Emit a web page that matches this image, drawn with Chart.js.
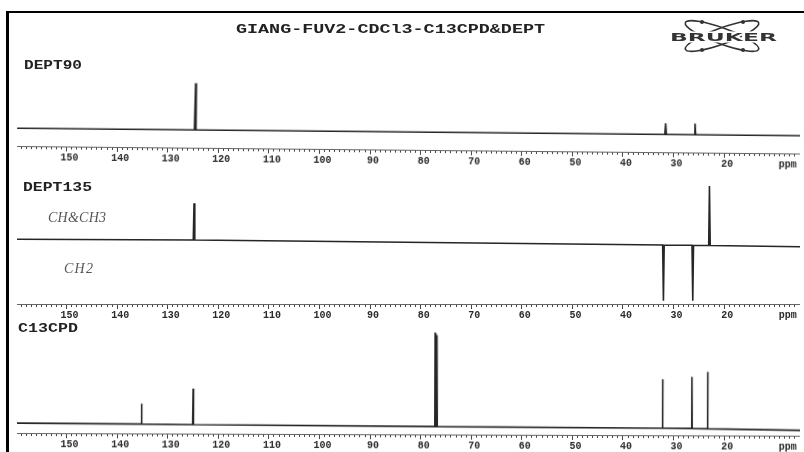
<!DOCTYPE html>
<html>
<head>
<meta charset="utf-8">
<script src="https://cdn.jsdelivr.net/npm/chart.js@4.4.1/dist/chart.umd.min.js"></script>
<style>
  html, body { margin: 0; padding: 0; background: #fff; }
  #page { position: relative; width: 804px; height: 452px; overflow: hidden; background: #fff; }
  canvas { position: absolute; left: 17px; }
  #dept90 { top: 78px; transform: rotate(0.55deg); transform-origin: 0 68px; }
  #dept135 { top: 182px; }
  #cpd { top: 328px; transform: rotate(0.2deg); transform-origin: 0 104px; }
  #overlay { position: absolute; left: 0; top: 0; pointer-events: none; }
  .frame { position: absolute; background: #000; }
</style>
</head>
<body>
<div id="page">
  <div class="frame" style="left:6px;top:11px;width:3px;height:441px"></div>
  <div class="frame" style="left:6px;top:11px;width:798px;height:2px"></div>
  <canvas id="dept90" width="783" height="85"></canvas>
  <canvas id="dept135" width="783" height="139"></canvas>
  <canvas id="cpd" width="783" height="122"></canvas>
  <svg id="overlay" width="804" height="452">
    <g font-family="Liberation Mono" font-weight="bold" fill="#222">
      <text x="236" y="33" font-size="13.5" textLength="309" lengthAdjust="spacingAndGlyphs">GIANG-FUV2-CDCl3-C13CPD&amp;DEPT</text>
      <text x="24" y="68.5" font-size="12.5" textLength="58" lengthAdjust="spacingAndGlyphs">DEPT90</text>
      <text x="23" y="191" font-size="12.5" textLength="69" lengthAdjust="spacingAndGlyphs">DEPT135</text>
      <text x="18" y="331.5" font-size="12.5" textLength="60" lengthAdjust="spacingAndGlyphs">C13CPD</text>
    </g>
    <g font-family="Liberation Serif" font-style="italic" fill="#555" font-size="14">
      <text x="48" y="221.5" textLength="58" lengthAdjust="spacing">CH&amp;CH3</text>
      <text x="64" y="273" textLength="29" lengthAdjust="spacing">CH2</text>
    </g>
    <g fill="none" stroke="#333" stroke-width="1.6">
      <ellipse cx="722" cy="36" rx="39" ry="8" transform="rotate(20 722 36)"></ellipse>
      <ellipse cx="722" cy="36" rx="39" ry="8" transform="rotate(-20 722 36)"></ellipse>
    </g>
    <g fill="#333">
      <circle cx="702" cy="22" r="2"></circle>
      <circle cx="743" cy="22" r="2"></circle>
      <circle cx="702" cy="50" r="2"></circle>
      <circle cx="743" cy="50" r="2"></circle>
    </g>
    <text x="670" y="40.5" font-family="DejaVu Sans" font-weight="bold" font-size="11" fill="#333"
          stroke="#fff" stroke-width="3" paint-order="stroke" textLength="107" lengthAdjust="spacingAndGlyphs">BRUKER</text>
  </svg>
</div>
<script>
// ppm axis
const axisMax = 159.8;
const axisMin = 5.0;
const tickLabels = [150, 140, 130, 120, 110, 100, 90, 80, 70, 60, 50, 40, 30, 20];
const unitTicks = [];
for (let v = 6; v <= 159; v++) unitTicks.push(v);
const ppmLabelAt = 8;

// DEPT90 (CH only)
const dept90Ppm  = [124.6, 31.6, 25.8];
const dept90Top  = [47, 11.3, 11.3];
const dept90Base = [0, 0, 0];
const dept90Ends = [0, 0];

// DEPT135 (CH, CH3 up / CH2 down)
const dept135Ppm  = [124.8, 32.0, 26.2, 22.9];
const dept135Top  = [36, -61.4, -61.4, 53.3];
const dept135Base = [-0.7, -5.7, -6.0, -6.2];
const dept135Ends = [0, -7.4];

// C13CPD (all carbons, CDCl3 triplet near 77)
const cpdPpm  = [135.2, 125.0, 77.2, 77.0, 76.8, 32.2, 26.4, 23.3];
const cpdTop  = [19.8, 35, 91.8, 90.5, 89, 46, 48.4, 53.4];
const cpdBase = [-0.5, -0.8, -2, -2, -2, -2.8, -3, -3.2];
const cpdEnds = [0, -4.5];

function buildPoints(ppm, tops, bases, ends, halfWidth) {
  var pts = [{x: axisMax, y: ends[0]}];
  for (var i = 0; i < ppm.length; i++) {
    pts.push({x: ppm[i] + halfWidth, y: bases[i]});
    pts.push({x: ppm[i], y: tops[i]});
    pts.push({x: ppm[i] - halfWidth, y: bases[i]});
  }
  pts.push({x: axisMin, y: ends[1]});
  return pts;
}

function makePanel(id, pts, yMin, yMax) {
  return new Chart(document.getElementById(id), {
    type: 'line',
    data: {
      datasets: [{
        data: pts,
        borderColor: '#262626',
        borderWidth: 1.6,
        pointRadius: 0,
        tension: 0,
        fill: false
      }]
    },
    options: {
      responsive: false,
      animation: false,
      devicePixelRatio: 1,
      layout: { padding: 0 },
      plugins: { legend: { display: false }, tooltip: { enabled: false } },
      scales: {
        x: {
          type: 'linear',
          reverse: true,
          min: axisMin,
          max: axisMax,
          afterBuildTicks: function(scale) {
            scale.ticks = unitTicks.map(function(v) { return {value: v}; });
          },
          ticks: {
            autoSkip: false,
            maxRotation: 0,
            minRotation: 0,
            padding: 0,
            labelOffset: 3,
            color: '#2a2a2a',
            font: { family: 'Liberation Mono', size: 10, weight: 'bold' },
            callback: function(value) {
              if (tickLabels.indexOf(value) >= 0) return String(value);
              if (value === ppmLabelAt) return 'ppm';
              return '';
            }
          },
          grid: {
            drawOnChartArea: false,
            tickLength: 5,
            tickColor: '#444',
            tickBorderDash: function(ctx) {
              return (ctx.tick && tickLabels.indexOf(ctx.tick.value) >= 0) ? [] : [2, 20];
            }
          },
          border: { display: true, color: '#666', width: 1 }
        },
        y: { display: false, min: yMin, max: yMax }
      }
    }
  });
}

makePanel('dept90', buildPoints(dept90Ppm, dept90Top, dept90Base, dept90Ends, 0.15), -17.8, 50.5);
makePanel('dept135', buildPoints(dept135Ppm, dept135Top, dept135Base, dept135Ends, 0.15), -64.7, 57.3);
makePanel('cpd', buildPoints(cpdPpm, cpdTop, cpdBase, cpdEnds, 0.08), -9.8, 94.7);
</script>
</body>
</html>
